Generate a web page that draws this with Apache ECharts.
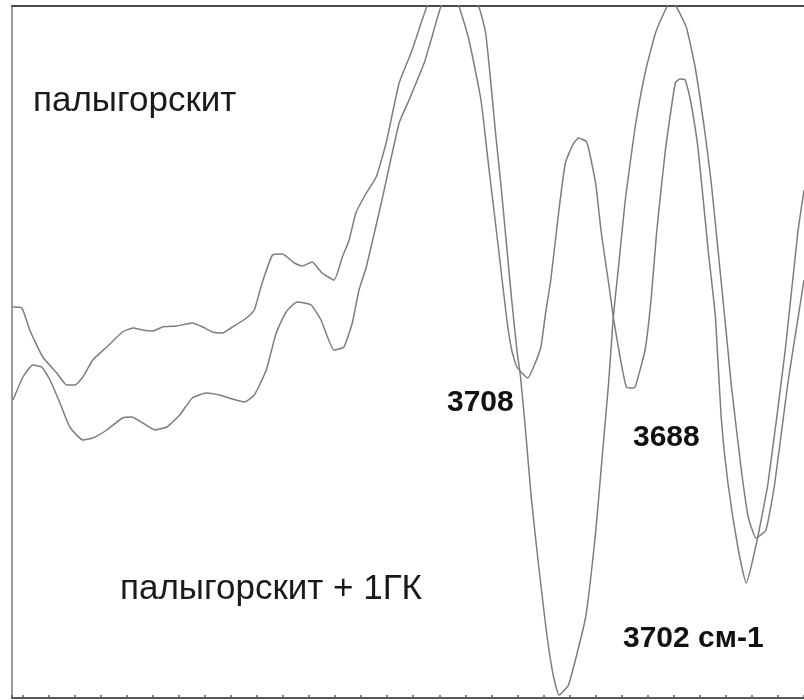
<!DOCTYPE html>
<html>
<head>
<meta charset="utf-8">
<title>ИК-спектр палыгорскита</title>
<script src="https://cdn.jsdelivr.net/npm/echarts@6/dist/echarts.min.js"></script>
<style>
  html, body { margin: 0; padding: 0; background: #ffffff; }
  #chart { width: 804px; height: 700px; }
</style>
</head>
<body>
<div id="chart"></div>
<script>
// Wavenumbers (cm-1) and relative intensity for the pure palygorskite spectrum
const palygorskiteWn = [
  3806.8, 3805.1, 3803.6, 3801.1, 3798.4, 3796.5, 3794.9, 3793.4, 3791.5, 3788.8,
  3785.8, 3783.8, 3781.9, 3780.0, 3778.1, 3775.4, 3772.4, 3770.4, 3768.5, 3766.6,
  3764.7, 3762.0, 3760.5, 3759.0, 3757.0, 3755.1, 3752.8, 3751.3, 3749.4, 3747.5,
  3745.2, 3743.6, 3742.3, 3741.0, 3739.0, 3737.1, 3735.2, 3732.7, 3730.2, 3727.4,
  3724.3, 3721.2, 3719.3, 3717.0, 3715.5, 3713.6, 3712.1, 3711.1, 3710.1, 3708.0,
  3706.9, 3705.5, 3704.6, 3703.6, 3702.1, 3700.8, 3699.4, 3698.3, 3696.7, 3695.0,
  3693.9, 3692.5, 3691.6, 3690.2, 3689.1, 3688.0, 3687.4, 3685.5, 3684.3, 3683.3,
  3681.6, 3679.7, 3678.8, 3677.8, 3676.8, 3675.3, 3673.4, 3672.0, 3670.9, 3669.6,
  3667.6, 3666.1, 3664.2, 3661.9, 3658.6, 3656.2, 3655.0
];
const palygorskiteVal = [
  39.1, 39.0, 36.8, 34.1, 32.5, 31.3, 31.3, 32.1, 33.8, 35.1,
  36.6, 37.0, 36.8, 36.7, 37.1, 37.2, 37.5, 37.1, 36.6, 36.5,
  37.1, 38.0, 38.8, 41.5, 44.3, 44.4, 43.5, 43.2, 43.6, 42.5,
  41.8, 44.1, 45.8, 48.5, 50.5, 52.1, 55.5, 61.5, 64.8, 69.1,
  71.8, 69.1, 65.8, 59.8, 53.1, 44.8, 38.1, 34.8, 33.1, 32.0,
  33.1, 35.1, 38.5, 41.8, 48.5, 53.5, 55.3, 56.0, 55.6, 51.5,
  46.5, 41.5, 38.1, 33.8, 31.1, 31.0, 31.1, 34.8, 40.1, 46.5,
  54.8, 61.5, 61.9, 61.8, 59.8, 54.8, 44.8, 38.1, 28.1, 21.5,
  14.8, 11.5, 15.3, 21.5, 34.8, 46.5, 50.8
];

// Palygorskite + 1ГК spectrum
const palyGkWn = [
  3806.8, 3804.9, 3803.0, 3801.3, 3799.7, 3797.8, 3795.9, 3793.4, 3791.5, 3788.8,
  3785.8, 3784.0, 3781.9, 3779.6, 3777.3, 3774.8, 3772.4, 3769.7, 3767.2, 3764.7,
  3762.4, 3760.5, 3758.2, 3756.3, 3754.4, 3752.3, 3749.6, 3747.7, 3745.2, 3743.3,
  3741.7, 3740.4, 3739.0, 3736.0, 3732.7, 3730.8, 3727.9, 3726.4, 3724.7, 3721.1,
  3717.4, 3716.1, 3715.1, 3714.2, 3713.2, 3712.3, 3711.1, 3710.1, 3709.4, 3708.4,
  3707.3, 3705.9, 3704.4, 3703.1, 3702.0, 3700.2, 3696.9, 3695.0, 3693.9, 3692.5,
  3691.6, 3690.6, 3689.3, 3687.4, 3685.5, 3683.5, 3681.6, 3680.7, 3679.7, 3677.6,
  3675.9, 3674.0, 3672.8, 3671.5, 3669.6, 3669.0, 3667.1, 3665.7, 3664.2, 3662.3,
  3660.6, 3658.1, 3655.6, 3655.0
];
const palyGkVal = [
  29.8, 32.1, 33.3, 33.1, 31.8, 29.5, 27.1, 25.8, 26.0, 26.8,
  28.0, 28.1, 27.5, 26.8, 27.1, 28.3, 30.0, 30.5, 30.3, 29.9,
  29.6, 30.3, 32.8, 36.5, 38.6, 39.6, 39.3, 37.8, 34.8, 35.1,
  37.5, 40.8, 43.1, 49.8, 57.5, 59.8, 63.5, 66.1, 69.1, 72.3,
  69.1, 66.5, 61.5, 56.5, 51.5, 46.5, 39.8, 34.8, 32.1, 26.5,
  19.8, 13.1, 6.5, 2.2, 0.3, 1.3, 8.1, 16.5, 23.1, 31.5,
  38.1, 43.1, 49.8, 57.1, 62.5, 66.5, 68.8, 69.5, 69.3, 67.1,
  63.1, 56.5, 51.5, 44.8, 34.8, 31.5, 23.1, 18.1, 16.0, 16.8,
  21.5, 31.5, 39.8, 41.8
];

// Captions drawn on the plot
const sampleNames = ['палыгорскит', 'палыгорскит + 1ГК'];
const bandLabels = ['3708', '3688', '3702 см-1'];

function zip(xs, ys) {
  return xs.map((x, i) => [x, ys[i]]);
}

const chart = echarts.init(document.getElementById('chart'), null, { renderer: 'canvas' });

const lineStyle = { color: '#7d7d7d', width: 1.5 };
const regular = '35px "Liberation Sans", Arial, sans-serif';
const bold = 'bold 30px "Liberation Sans", Arial, sans-serif';

chart.setOption({
  animation: false,
  backgroundColor: '#ffffff',
  grid: { left: 12, right: -2, top: 6, bottom: 2, containLabel: false },
  xAxis: [
    {
      type: 'value',
      inverse: true,
      min: 3655,
      max: 3807,
      interval: 5,
      position: 'bottom',
      axisLine: { show: true, lineStyle: { color: '#5a5a5a', width: 2 } },
      axisTick: { show: true, inside: true, length: 3, lineStyle: { color: '#5a5a5a', width: 1.5 } },
      axisLabel: { show: false },
      splitLine: { show: false }
    },
    {
      type: 'value',
      inverse: true,
      min: 3655,
      max: 3807,
      position: 'top',
      axisLine: { show: true, lineStyle: { color: '#4a4a4a', width: 2 } },
      axisTick: { show: false },
      axisLabel: { show: false },
      splitLine: { show: false }
    }
  ],
  yAxis: {
    type: 'value',
    min: 0,
    max: 69.2,
    axisLine: { show: true, lineStyle: { color: '#9a9a9a', width: 2 } },
    axisTick: { show: false },
    axisLabel: { show: false },
    splitLine: { show: false }
  },
  series: [
    {
      name: sampleNames[0],
      type: 'line',
      xAxisIndex: 0,
      data: zip(palygorskiteWn, palygorskiteVal),
      showSymbol: false,
      smooth: 0.15,
      clip: true,
      lineStyle: lineStyle
    },
    {
      name: sampleNames[1],
      type: 'line',
      xAxisIndex: 0,
      data: zip(palyGkWn, palyGkVal),
      showSymbol: false,
      smooth: 0.15,
      clip: true,
      lineStyle: lineStyle
    }
  ],
  graphic: [
    { type: 'text', x: 33, y: 101, style: { text: sampleNames[0], font: regular, fill: '#1a1a1a', textVerticalAlign: 'middle' } },
    { type: 'text', x: 120, y: 589, style: { text: sampleNames[1], font: regular, fill: '#1a1a1a', textVerticalAlign: 'middle' } },
    { type: 'text', x: 447, y: 403, style: { text: bandLabels[0], font: bold, fill: '#111111', textVerticalAlign: 'middle' } },
    { type: 'text', x: 633, y: 438, style: { text: bandLabels[1], font: bold, fill: '#111111', textVerticalAlign: 'middle' } },
    { type: 'text', x: 623, y: 639, style: { text: bandLabels[2], font: bold, fill: '#111111', textVerticalAlign: 'middle' } }
  ]
});
</script>
</body>
</html>
